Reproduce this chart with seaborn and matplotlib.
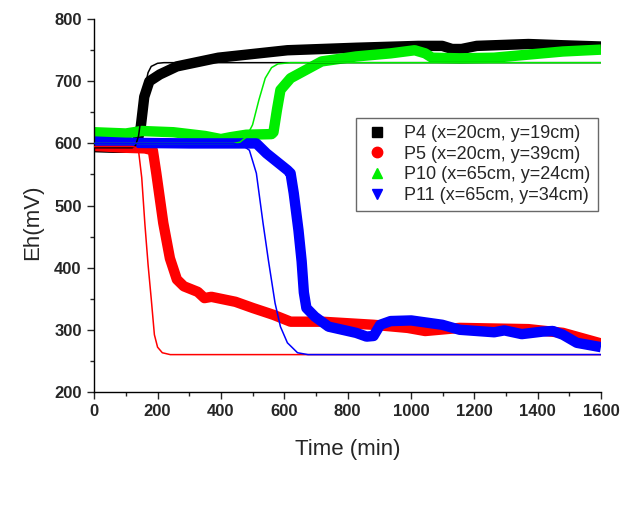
import numpy as np
import pandas as pd
import matplotlib
matplotlib.use("Agg")
import matplotlib.pyplot as plt
from matplotlib.lines import Line2D
import seaborn as sns

p4_t = [0, 60, 120, 135, 147, 158, 174, 207, 261, 392, 610, 827, 1023, 1099, 1130, 1160, 1208, 1371, 1480, 1600]
p4_eh = [594, 593, 593, 600, 627, 675, 700, 711, 724, 738, 750, 754, 757, 757, 752, 752, 757, 760, 758, 756]

p5_t = [0, 100, 160, 185, 196, 218, 239, 261, 283, 327, 348, 370, 446, 501, 566, 620, 718, 882, 990, 1045, 1154, 1371, 1480, 1600]
p5_eh = [596, 593, 592, 589, 552, 472, 415, 381, 370, 361, 351, 353, 345, 335, 324, 313, 313, 308, 303, 298, 303, 301, 295, 278]

p10_t = [0, 100, 150, 250, 350, 400, 430, 480, 560, 566, 577, 588, 620, 718, 827, 936, 1012, 1045, 1067, 1154, 1263, 1371, 1480, 1600]
p10_eh = [618, 616, 620, 618, 612, 607, 610, 614, 615, 618, 654, 686, 705, 732, 740, 745, 750, 745, 738, 737, 738, 743, 748, 751]

p11_t = [0, 100, 300, 480, 512, 544, 610, 620, 630, 645, 655, 662, 670, 697, 740, 827, 860, 882, 903, 936, 1001, 1099, 1154, 1263, 1295, 1350, 1415, 1448, 1480, 1524, 1589, 1600]
p11_eh = [603, 601, 600, 600, 600, 584, 557, 552, 520, 460, 410, 360, 335, 321, 305, 295, 289, 290, 308, 314, 315, 308, 300, 296, 299, 293, 297, 298, 292, 279, 273, 272]

# model curves (thin lines)
f4_t = [0, 120, 130, 140, 150, 160, 170, 180, 200, 220, 1600]
f4_eh = [593, 593, 596, 612, 650, 690, 714, 724, 729, 730, 730]

f5_t = [0, 120, 130, 140, 150, 160, 170, 180, 190, 200, 215, 240, 1600]
f5_eh = [595, 595, 594, 588, 545, 470, 405, 350, 292, 272, 263, 260, 260]

f10_t = [0, 440, 460, 480, 500, 520, 540, 560, 580, 620, 1600]
f10_eh = [600, 600, 602, 610, 630, 670, 705, 722, 728, 730, 730]

f11_t = [0, 440, 468, 490, 512, 533, 550, 571, 588, 610, 642, 675, 1600]
f11_eh = [600, 600, 597, 589, 552, 472, 412, 343, 305, 279, 263, 260, 260]

labels = ["P4 (x=20cm, y=19cm)", "P5 (x=20cm, y=39cm)",
          "P10 (x=65cm, y=24cm)", "P11 (x=65cm, y=34cm)"]
colors = ["#000000", "#ff0000", "#00ee00", "#0000ff"]
markers = ["s", "o", "^", "v"]

sns.set_style("ticks")
plt.rcParams["font.family"] = ["Liberation Sans", "DejaVu Sans"]

fig = plt.figure(figsize=(6.24, 5.05), dpi=100)
ax = fig.add_axes([0.151, 0.224, 0.812, 0.738])

meas = [(p4_t, p4_eh), (p5_t, p5_eh), (p10_t, p10_eh), (p11_t, p11_eh)]
fits = [(f4_t, f4_eh), (f5_t, f5_eh), (f10_t, f10_eh), (f11_t, f11_eh)]

for (t, eh), c in zip(meas, colors):
    sns.lineplot(x=t, y=eh, ax=ax, color=c, lw=7.5, estimator=None,
                 solid_joinstyle="round", solid_capstyle="butt", zorder=2)
for (t, eh), c in zip(fits, colors):
    sns.lineplot(x=t, y=eh, ax=ax, color=c, lw=1.1, estimator=None, zorder=3)

ax.set_xlim(0, 1600)
ax.set_ylim(200, 800)
ax.set_xticks(np.arange(0, 1601, 200))
ax.set_xticks(np.arange(100, 1600, 200), minor=True)
ax.set_yticks(np.arange(200, 801, 100))
ax.set_yticks(np.arange(250, 800, 100), minor=True)
ax.tick_params(which="major", direction="out", length=5, width=1, labelsize=12, pad=4)
ax.tick_params(which="minor", direction="out", length=3, width=1)
for lab in ax.get_xticklabels() + ax.get_yticklabels():
    lab.set_fontweight("bold")
for s in ["top", "right"]:
    ax.spines[s].set_visible(False)
for s in ["left", "bottom"]:
    ax.spines[s].set_color("black")
    ax.spines[s].set_linewidth(1)

ax.set_xlabel("Time (min)", fontsize=16, labelpad=14)
ax.set_ylabel("Eh(mV)", fontsize=16)
ax.yaxis.set_label_coords(-0.10, 0.456)

handles = [Line2D([], [], ls="none", marker=m, color=c, markersize=7.5)
           for m, c in zip(markers, colors)]
leg = ax.legend(handles, labels, loc="upper right", bbox_to_anchor=(0.994, 0.735),
                borderaxespad=0, fontsize=13, frameon=True, fancybox=False,
                handletextpad=0.7, labelspacing=0.2, borderpad=0.4, handlelength=1.6)
leg.get_frame().set_edgecolor("#444444")
leg.get_frame().set_linewidth(1)

fig.savefig("out.png", dpi=100)
